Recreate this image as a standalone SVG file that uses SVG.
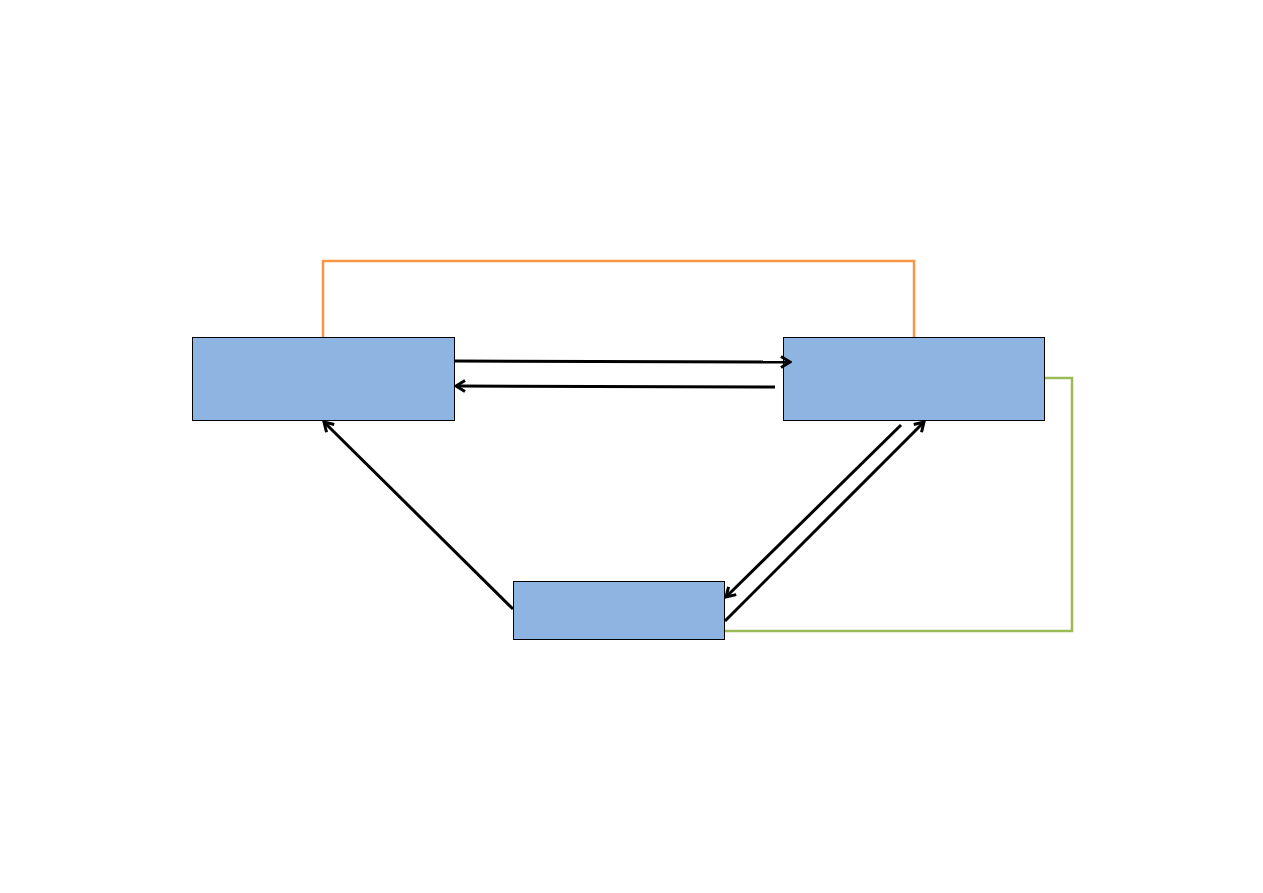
<svg xmlns="http://www.w3.org/2000/svg" width="1263" height="893" viewBox="0 0 1263 893">
<style>
.node{fill:#8eb4e1;stroke:#000;stroke-width:1}
.arr{fill:none;stroke:#000;stroke-width:3;marker-end:url(#ah)}
.orange{fill:none;stroke:#f79646;stroke-width:2.5}
.green{fill:none;stroke:#9bbb59;stroke-width:2.5}
</style>
<defs>
<marker id="ah" viewBox="0 0 14 14" refX="12" refY="7" markerWidth="14" markerHeight="14" markerUnits="userSpaceOnUse" orient="auto">
<path d="M3,1.5 L12,7 L3,12.5" fill="none" stroke="#000" stroke-width="3"/>
</marker>
</defs>
<rect width="1263" height="893" fill="#fff"/>
<g id="node-left"><rect class="node" x="192.5" y="337.5" width="262" height="83"/></g>
<g id="node-right"><rect class="node" x="783.5" y="337.5" width="261" height="83"/></g>
<g id="node-bottom"><rect class="node" x="513.5" y="581.5" width="211" height="58"/></g>
<g id="connectors">
<polyline class="orange" points="323,337 323,261 914,261 914,337"/>
<polyline class="green" points="1045,378 1072,378 1072,631 725,631"/>
<line class="arr" x1="455" y1="361" x2="790" y2="362"/>
<line class="arr" x1="775" y1="387" x2="456" y2="386"/>
<line class="arr" x1="513" y1="609" x2="324" y2="422"/>
<line class="arr" x1="901" y1="425" x2="726" y2="597"/>
<line class="arr" x1="725" y1="621" x2="924" y2="422"/>
</g>
</svg>
